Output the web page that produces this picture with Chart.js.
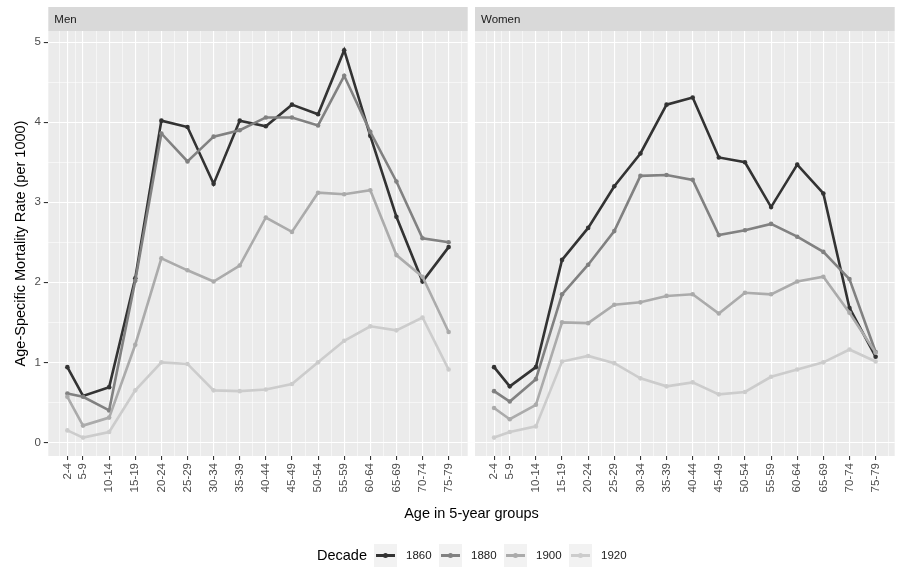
<!DOCTYPE html>
<html>
<head>
<meta charset="utf-8">
<script src="https://cdn.jsdelivr.net/npm/chart.js@4/dist/chart.umd.min.js"></script>
<style>
  html, body { margin: 0; padding: 0; background: #ffffff; }
  body { width: 903px; height: 582px; position: relative; overflow: hidden; font-family: "Liberation Sans", Arial, sans-serif; }
  canvas { position: absolute; top: 0; }
  #cMen { left: 0; }
  #cWomen { left: 470px; }
  .txt { position: absolute; white-space: nowrap; }
  #xtitle { top: 505px; left: 471.5px; transform: translateX(-50%); font-size: 14.5px; line-height: 17px; color: #000; }
  .key { position: absolute; top: 544px; width: 23px; height: 23px; background: #f2f2f2; }
  .key .ln { position: absolute; left: 2px; right: 2px; top: 10.25px; height: 2.5px; }
  .key .pt { position: absolute; left: 9px; top: 9px; width: 5px; height: 5px; border-radius: 50%; }
  .lab { position: absolute; top: 547px; font-size: 11.5px; line-height: 17px; color: #1a1a1a; }
</style>
</head>
<body>
<canvas id="cMen" width="470" height="520"></canvas>
<canvas id="cWomen" width="433" height="520"></canvas>
<div id="xtitle" class="txt">Age in 5-year groups</div>
<div id="legend"></div>
<script>
// ---- data ----
const ageLabels = ['2-4','5-9','10-14','15-19','20-24','25-29','30-34','35-39','40-44','45-49','50-54','55-59','60-64','65-69','70-74','75-79'];
const ageStart  = [2, 5, 10, 15, 20, 25, 30, 35, 40, 45, 50, 55, 60, 65, 70, 75];
const decades   = ['1860', '1880', '1900', '1920'];
const panels    = ['Men', 'Women'];

const men1860 = [0.94, 0.58, 0.69, 2.05, 4.02, 3.94, 3.23, 4.02, 3.95, 4.22, 4.10, 4.90, 3.83, 2.82, 2.01, 2.44];
const men1880 = [0.61, 0.57, 0.40, 2.02, 3.86, 3.51, 3.82, 3.90, 4.06, 4.06, 3.96, 4.58, 3.88, 3.26, 2.55, 2.50];
const men1900 = [0.57, 0.21, 0.31, 1.22, 2.30, 2.15, 2.01, 2.21, 2.81, 2.63, 3.12, 3.10, 3.15, 2.34, 2.07, 1.38];
const men1920 = [0.15, 0.06, 0.13, 0.65, 1.00, 0.98, 0.65, 0.64, 0.66, 0.73, 1.00, 1.27, 1.45, 1.40, 1.56, 0.91];

const women1860 = [0.94, 0.70, 0.94, 2.28, 2.68, 3.20, 3.61, 4.22, 4.31, 3.56, 3.50, 2.94, 3.47, 3.11, 1.68, 1.07];
const women1880 = [0.64, 0.51, 0.79, 1.85, 2.22, 2.64, 3.33, 3.34, 3.28, 2.59, 2.65, 2.73, 2.57, 2.38, 2.04, 1.13];
const women1900 = [0.43, 0.29, 0.47, 1.50, 1.49, 1.72, 1.75, 1.83, 1.85, 1.61, 1.87, 1.85, 2.01, 2.07, 1.62, 1.12];
const women1920 = [0.06, 0.13, 0.20, 1.01, 1.08, 0.99, 0.80, 0.70, 0.75, 0.60, 0.63, 0.82, 0.91, 1.00, 1.16, 1.01];

const yMajor = [0, 1, 2, 3, 4, 5];

// ---- styles ----
const decadeColors = ['#333333', '#818181', '#ababab', '#cccccc'];
const FONT = '"Liberation Sans", Arial, sans-serif';
Chart.defaults.font.family = FONT;

const xMin = -1.65, xMax = 78.65, yMin = -0.17, yMax = 5.14;

// minor breaks (midpoints, extended to limits) like ggplot
function minorBreaks(major, lo, hi) {
  const out = [];
  for (let i = 0; i < major.length - 1; i++) out.push((major[i] + major[i + 1]) / 2);
  const d0 = (major[1] - major[0]) / 2, d1 = (major[major.length - 1] - major[major.length - 2]) / 2;
  if (major[0] - d0 >= lo) out.unshift(major[0] - d0);
  if (major[major.length - 1] + d1 <= hi) out.push(major[major.length - 1] + d1);
  return out;
}
const xTicksAll = [...ageStart, ...minorBreaks(ageStart, xMin, xMax)].sort((a, b) => a - b);
const yTicksAll = [...yMajor, ...minorBreaks(yMajor, yMin, yMax)].sort((a, b) => a - b);
const isXMajor = v => ageStart.includes(v);
const isYMajor = v => yMajor.includes(v);

function makeDatasets(series) {
  return series.map((vals, i) => ({
    label: decades[i],
    data: ageStart.map((x, k) => ({ x: x, y: vals[k] })),
    borderColor: decadeColors[i],
    backgroundColor: decadeColors[i],
    borderWidth: 2.6,
    pointRadius: 2.3,
    pointBorderWidth: 0,
    pointHoverRadius: 2.3,
    tension: 0,
    order: series.length - i
  }));
}

const panelPlugin = {
  id: 'panel',
  beforeDraw(chart, args, opts) {
    const { ctx, chartArea: a } = chart;
    ctx.save();
    ctx.fillStyle = '#ebebeb';
    ctx.fillRect(a.left, a.top, a.right - a.left, a.bottom - a.top);
    ctx.fillStyle = '#d9d9d9';
    ctx.fillRect(a.left, 7, a.right - a.left, a.top - 7);
    ctx.fillStyle = '#1a1a1a';
    ctx.font = '11.5px ' + FONT;
    ctx.textBaseline = 'middle';
    ctx.textAlign = 'left';
    ctx.fillText(opts.title, a.left + 6, 19.5);
    ctx.restore();
  }
};

function makeChart(id, title, series, showY, padLeft, padRight) {
  return new Chart(document.getElementById(id), {
    type: 'line',
    data: { datasets: makeDatasets(series) },
    plugins: [panelPlugin],
    options: {
      responsive: false,
      animation: false,
      events: [],
      layout: { padding: { top: 31, right: padRight, bottom: 14, left: padLeft } },
      plugins: {
        legend: { display: false },
        tooltip: { enabled: false },
        panel: { title: title }
      },
      scales: {
        x: {
          type: 'linear',
          min: xMin, max: xMax,
          afterBuildTicks: s => { s.ticks = xTicksAll.map(v => ({ value: v })); },
          afterFit: s => { s.height = 50; s.paddingLeft = 0; s.paddingRight = 0; },
          border: { display: false },
          grid: {
            color: '#ffffff',
            lineWidth: c => (c.tick && isXMajor(c.tick.value)) ? 1.1 : 0.55,
            drawTicks: true,
            tickLength: 4,
            tickWidth: 1.1,
            tickColor: c => (c.tick && isXMajor(c.tick.value)) ? '#333333' : 'rgba(0,0,0,0)'
          },
          ticks: {
            autoSkip: false,
            minRotation: 90, maxRotation: 90,
            padding: 3,
            color: '#4d4d4d',
            font: { size: 11.5 },
            callback: v => { const i = ageStart.indexOf(v); return i >= 0 ? ageLabels[i] : ''; }
          }
        },
        y: {
          type: 'linear',
          min: yMin, max: yMax,
          afterBuildTicks: s => { s.ticks = yTicksAll.map(v => ({ value: v })); },
          afterFit: s => { s.width = showY ? 48.3 : 0; s.paddingTop = 0; s.paddingBottom = 0; },
          border: { display: false },
          grid: {
            color: '#ffffff',
            lineWidth: c => (c.tick && isYMajor(c.tick.value)) ? 1.1 : 0.55,
            drawTicks: showY,
            tickLength: 4.5,
            tickWidth: 1.1,
            tickColor: c => (c.tick && isYMajor(c.tick.value)) ? '#333333' : 'rgba(0,0,0,0)'
          },
          ticks: {
            display: showY,
            autoSkip: false,
            padding: 3,
            color: '#4d4d4d',
            font: { size: 11.5 },
            callback: v => isYMajor(v) ? String(v) : ''
          },
          title: {
            display: showY,
            text: 'Age-Specific Mortality Rate (per 1000)',
            color: '#000000',
            font: { size: 14.5 },
            padding: { top: 12, bottom: 0 }
          }
        }
      }
    }
  });
}

makeChart('cMen', panels[0], [men1860, men1880, men1900, men1920], true, 0, 2.3);
makeChart('cWomen', panels[1], [women1860, women1880, women1900, women1920], false, 5, 8.3);

// ---- legend (HTML) ----
const legend = document.getElementById('legend');
const keyLefts = [374, 439, 504, 569];
let html = '<div class="txt" style="top:546px;left:317px;font-size:14.5px;line-height:18px;color:#000;">Decade</div>';
decades.forEach((d, i) => {
  html += '<div class="key" style="left:' + keyLefts[i] + 'px"><div class="ln" style="background:' + decadeColors[i] + '"></div><div class="pt" style="background:' + decadeColors[i] + '"></div></div>';
  html += '<div class="lab txt" style="left:' + (keyLefts[i] + 32) + 'px">' + d + '</div>';
});
legend.innerHTML = html;
</script>
</body>
</html>
